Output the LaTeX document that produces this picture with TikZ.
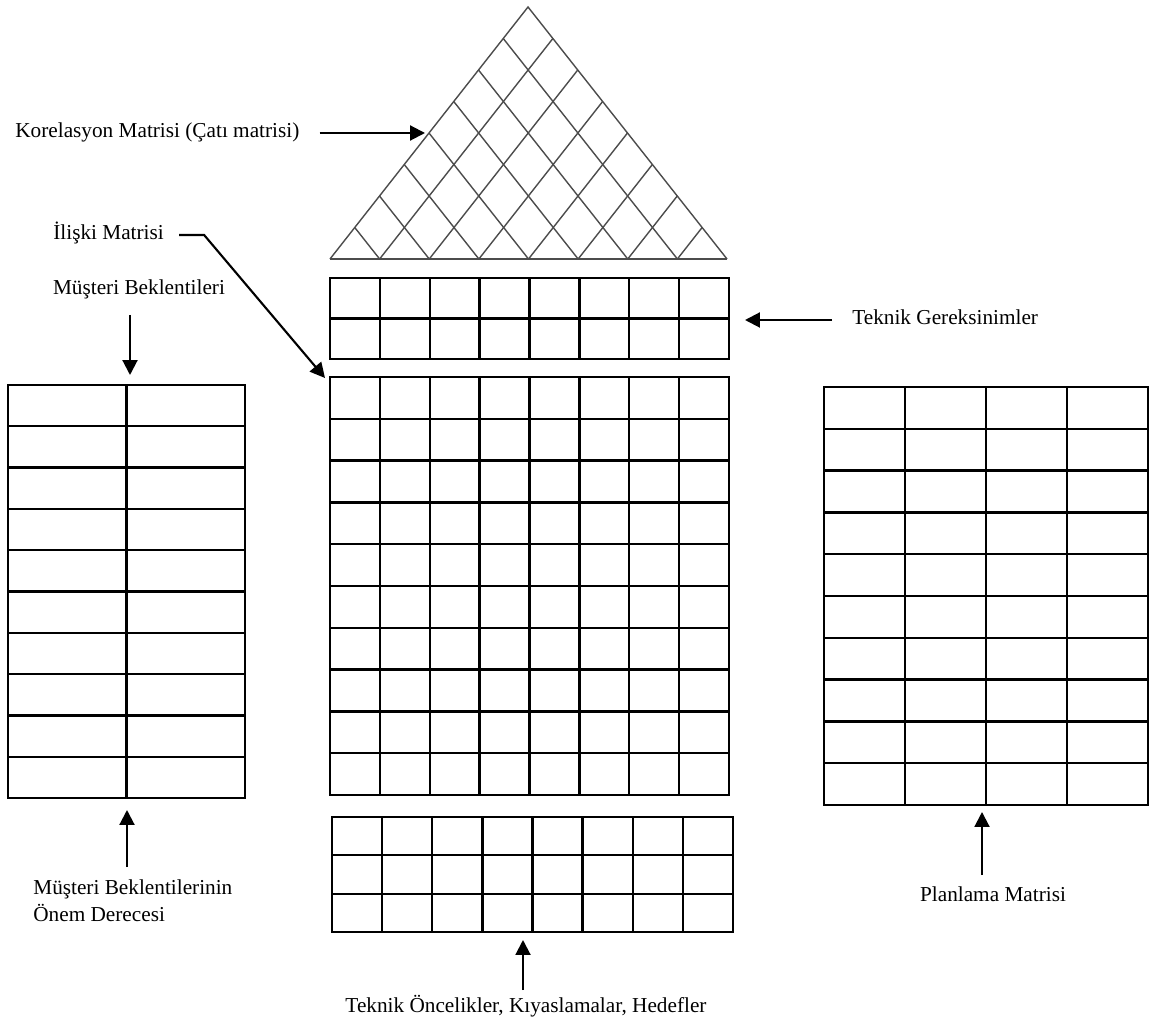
\documentclass[tikz,border=0pt]{standalone}
\usepackage{fontspec}
\setmainfont{Liberation Serif}
\usetikzlibrary{arrows.meta,positioning,calc}

\begin{document}
\begin{tikzpicture}[x=0.02cm,y=-0.02cm,>=Latex,
  cell/.style={line width=1.3pt,line cap=rect},
  roof/.style={line width=0.8pt,draw=black!70},
  pointer/.style={line width=1.2pt,-{Triangle[length=8.5pt,width=8.5pt]}},
  lblbox/.style={inner sep=0pt,font=\fontsize{12.1}{15.4}\selectfont},
  lbl/.style={lblbox,text height=0.7em,text depth=0.2em}]
  \useasboundingbox (0,0) rectangle (1149,1023);

  % roof: correlation matrix
  \coordinate (apex) at (528,7);
  \coordinate (bl) at (330,259);
  \coordinate (br) at (727,259);
  \foreach \i in {1,...,7}{
    \draw[roof] ($(bl)!{\i/8}!(br)$) -- ($(br)!{(8-\i)/8}!(apex)$);
    \draw[roof] ($(bl)!{\i/8}!(br)$) -- ($(bl)!{\i/8}!(apex)$);
  }
  \draw[roof] (bl) -- (apex) -- (br);
  \draw[roof,line width=1.2pt] (bl) -- (br);

  % technical requirements, 2 x 8
  \foreach \c in {0,...,8} \draw[cell] ({330+\c*49.875},278) -- ({330+\c*49.875},359);
  \foreach \r in {0,...,2} \draw[cell] (330,{278+\r*40.5}) -- (729,{278+\r*40.5});

  % relationship matrix, 10 x 8
  \foreach \c in {0,...,8} \draw[cell] ({330+\c*49.875},377) -- ({330+\c*49.875},795);
  \foreach \r in {0,...,10} \draw[cell] (330,{377+\r*41.8}) -- (729,{377+\r*41.8});

  % technical priorities, 3 x 8
  \foreach \c in {0,...,8} \draw[cell] ({332+\c*50.125},817) -- ({332+\c*50.125},932);
  \foreach \r in {0,...,3} \draw[cell] (332,{817+\r*38.33}) -- (733,{817+\r*38.33});

  % customer needs, 10 x 2
  \foreach \c in {0,...,2} \draw[cell] ({8+\c*118.5},385) -- ({8+\c*118.5},798);
  \foreach \r in {0,...,10} \draw[cell] (8,{385+\r*41.3}) -- (245,{385+\r*41.3});

  % planning matrix, 10 x 4
  \foreach \c in {0,...,4} \draw[cell] ({824+\c*81},387) -- ({824+\c*81},805);
  \foreach \r in {0,...,10} \draw[cell] (824,{387+\r*41.8}) -- (1147,{387+\r*41.8});

  % labels
  \node[lbl,anchor=west] (korel) at (15,133) {Korelasyon Matrisi (Çatı matrisi)};
  \node[lbl,anchor=west] (iliski) at (53,235) {İlişki Matrisi};
  \node[lbl] (whats) at (139,290) {Müşteri Beklentileri};
  \node[lbl,anchor=west] (hows) at (852,320) {Teknik Gereksinimler};
  \node[lblbox,align=left,anchor=north west] (importance) at (33,879) {Müşteri Beklentilerinin\\Önem Derecesi};
  \node[lbl] (planning) at (993,897) {Planlama Matrisi};
  \node[lbl] (targets) at (526,1008) {Teknik Öncelikler, Kıyaslamalar, Hedefler};

  % arrow ends
  \coordinate (roofhit) at (425,133);
  \coordinate (relhit) at (325,378);
  \coordinate (whatstail) at (130,315);
  \coordinate (whatshit) at (130,375);
  \coordinate (howshit) at (745,320);
  \coordinate (imptail) at (127,867);
  \coordinate (imphit) at (127,810);
  \coordinate (plantail) at (982,875);
  \coordinate (planhit) at (982,812);
  \coordinate (targtail) at (523,990);
  \coordinate (targhit) at (523,940);

  \draw[pointer] ($(korel.east)+(20,0)$) -- (roofhit);
  \draw[pointer] ($(iliski.east)+(15,0)$) -- ++(25,0) -- (relhit);
  \draw[pointer] (whatstail) -- (whatshit);
  \draw[pointer] ($(hows.west)+(-20,0)$) -- (howshit);
  \draw[pointer] (imptail) -- (imphit);
  \draw[pointer] (plantail) -- (planhit);
  \draw[pointer] (targtail) -- (targhit);
\end{tikzpicture}
\end{document}
